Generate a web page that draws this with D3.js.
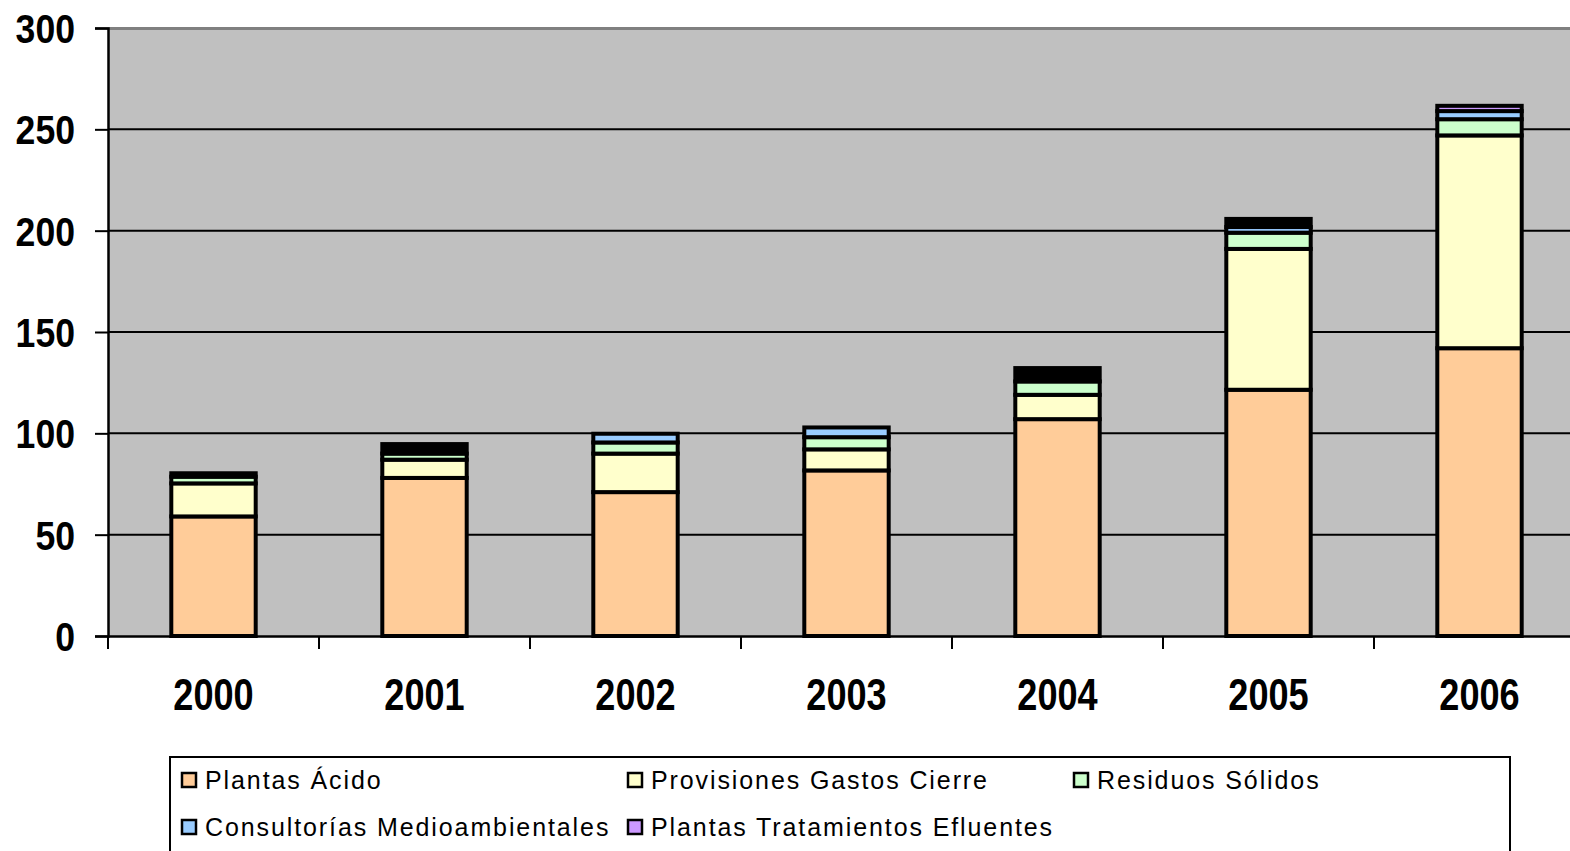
<!DOCTYPE html>
<html>
<head>
<meta charset="utf-8">
<script src="https://cdn.jsdelivr.net/npm/d3@7"></script>
<style>
  html, body { margin: 0; padding: 0; background: #ffffff; overflow: hidden; }
  svg { display: block; }
</style>
</head>
<body>
<svg id="chart" width="1570" height="851"></svg>
<script>
// ---- data ----
const years = ["2000", "2001", "2002", "2003", "2004", "2005", "2006"];
const seriesNames = ["Plantas Ácido", "Provisiones Gastos Cierre", "Residuos Sólidos",
                     "Consultorías Medioambientales", "Plantas Tratamientos Efluentes", "Otros"];
const plantasAcido       = [59, 78, 71, 81.7, 107, 121.5, 142];
const provisionesCierre  = [16.3, 9, 19, 10.4, 12, 69.5, 105];
const residuosSolidos    = [3.3, 3, 5.5, 6, 6.6, 8, 8];
const consultorias       = [0, 0, 4.3, 4.8, 0, 2.8, 4];
const plantasEfluentes   = [0, 0, 0, 0, 0, 0, 2.6];
const otros              = [1.7, 4.7, 0, 0, 6.6, 4, 0];
const yTicks = [0, 50, 100, 150, 200, 250, 300];
const legendNames = seriesNames.slice(0, 5);

const colors = ["#FFCC99", "#FFFFCC", "#CCFFCC", "#99CCFF", "#CC99FF", "#000000"];
const seriesValues = [plantasAcido, provisionesCierre, residuosSolidos, consultorias, plantasEfluentes, otros];

const rows = years.map((yr, i) => {
  const r = { year: yr };
  seriesNames.forEach((s, k) => { r[s] = seriesValues[k][i]; });
  return r;
});

// ---- layout ----
const svg = d3.select("#chart");
const plotLeft = 108, plotTop = 28, plotBottom = 636;
const step = 211;
const plotRight = plotLeft + step * years.length;

const x = d3.scaleBand().domain(years).range([plotLeft, plotRight]).padding(0);
const y = d3.scaleLinear().domain([0, 300]).range([plotBottom, plotTop]);
const barW = x.bandwidth() * 0.40;

function condense(sel, factor) {
  sel.each(function () {
    const w = this.getComputedTextLength();
    d3.select(this).attr("textLength", w * factor).attr("lengthAdjust", "spacingAndGlyphs");
  });
}

// plot background
svg.append("rect")
  .attr("x", plotLeft).attr("y", plotTop)
  .attr("width", plotRight - plotLeft).attr("height", plotBottom - plotTop)
  .attr("fill", "#C0C0C0");
svg.append("line")
  .attr("x1", plotLeft).attr("x2", plotRight)
  .attr("y1", plotTop + 0.5).attr("y2", plotTop + 0.5)
  .attr("stroke", "#808080").attr("stroke-width", 3);

// gridlines
svg.append("g").selectAll("line").data(yTicks.filter(t => t > 0 && t < 300)).join("line")
  .attr("x1", plotLeft).attr("x2", plotRight)
  .attr("y1", d => y(d)).attr("y2", d => y(d))
  .attr("stroke", "#000").attr("stroke-width", 2);

// stacked bars
const stack = d3.stack().keys(seriesNames);
const stacked = stack(rows);
const gBars = svg.append("g");
stacked.forEach((layer, k) => {
  gBars.append("g").selectAll("rect").data(layer.filter(d => d[1] - d[0] > 0)).join("rect")
    .attr("x", d => x(d.data.year) + (x.bandwidth() - barW) / 2)
    .attr("y", d => y(d[1]))
    .attr("width", barW)
    .attr("height", d => y(d[0]) - y(d[1]))
    .attr("fill", colors[k])
    .attr("stroke", "#000")
    .attr("stroke-width", 4);
});

// y axis
const yAxis = d3.axisLeft(y).tickValues(yTicks).tickSize(13).tickPadding(20);
const gy = svg.append("g").attr("transform", `translate(${plotLeft},0)`).call(yAxis);
gy.select(".domain").attr("stroke", "#000").attr("stroke-width", 2.5);
gy.selectAll(".tick line").attr("stroke", "#000").attr("stroke-width", 2);
gy.selectAll(".tick text")
  .attr("font-family", "'Liberation Sans', Arial, sans-serif")
  .attr("font-weight", "bold").attr("font-size", 40).attr("fill", "#000").attr("dy", "0.36em")
  .call(condense, 0.89);

// x axis
const xAxis = d3.axisBottom(x).tickSize(0).tickPadding(43);
const gx = svg.append("g").attr("transform", `translate(0,${plotBottom})`).call(xAxis);
gx.select(".domain").attr("stroke", "#000").attr("stroke-width", 2.5);
gx.selectAll(".tick text")
  .attr("font-family", "'Liberation Sans', Arial, sans-serif")
  .attr("font-weight", "bold").attr("font-size", 44).attr("fill", "#000")
  .call(condense, 0.82);
// category boundary ticks
svg.append("g").selectAll("line").data(years.concat(["end"])).join("line")
  .attr("x1", (d, i) => plotLeft + i * x.step()).attr("x2", (d, i) => plotLeft + i * x.step())
  .attr("y1", plotBottom).attr("y2", plotBottom + 13)
  .attr("stroke", "#000").attr("stroke-width", 2);

// legend
const lg = svg.append("g");
lg.append("rect").attr("x", 170).attr("y", 757).attr("width", 1340).attr("height", 130)
  .attr("fill", "#fff").attr("stroke", "#000").attr("stroke-width", 2);
const colX = [181, 627, 1073], rowY = [780, 827];
const items = lg.selectAll("g.item").data(legendNames).join("g").attr("class", "item")
  .attr("transform", (d, i) => `translate(${colX[i % 3]},${rowY[Math.floor(i / 3)]})`);
items.append("rect").attr("x", 1).attr("y", -7).attr("width", 14).attr("height", 14)
  .attr("fill", (d, i) => colors[i]).attr("stroke", "#000").attr("stroke-width", 2.5);
items.append("text").attr("x", 24).attr("y", 0).attr("dy", "0.36em")
  .attr("font-family", "'Liberation Sans', Arial, sans-serif")
  .attr("font-size", 25).attr("letter-spacing", "1.9px").attr("fill", "#000")
  .text(d => d);
</script>
</body>
</html>
